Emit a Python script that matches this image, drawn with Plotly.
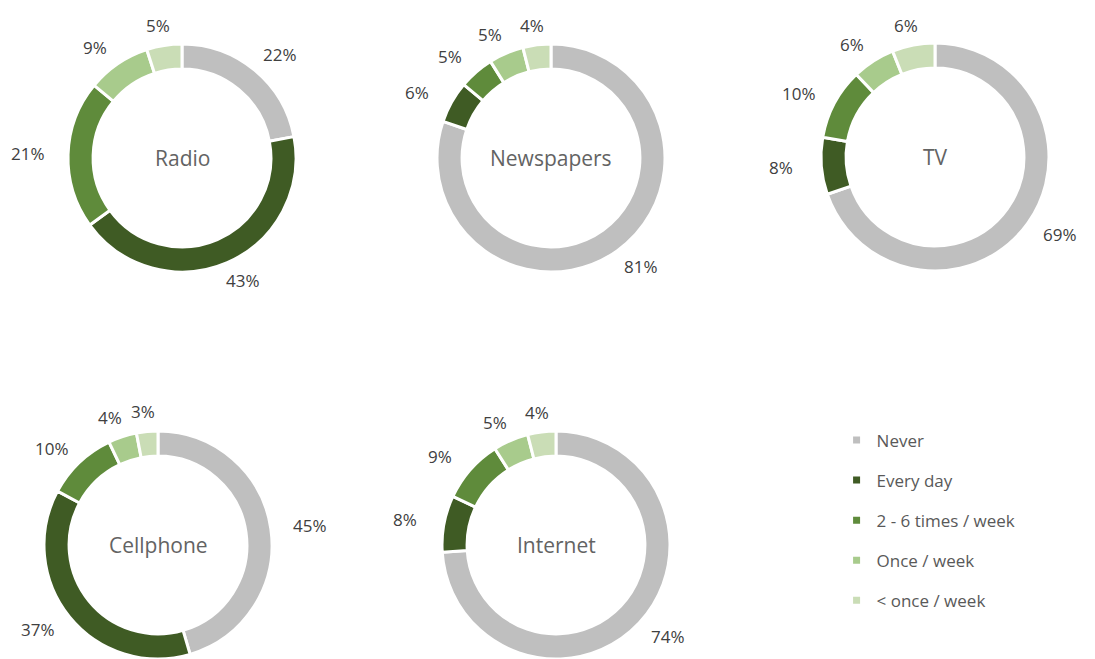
import math
import plotly.graph_objects as go

# media usage frequency
categories = ["Never", "Every day", "2 - 6 times / week", "Once / week", "< once / week"]
colors = ["#BFBFBF", "#3F5B24", "#5F8B3B", "#A8CB8C", "#CADDB6"]

media = ["Radio", "Newspapers", "TV", "Cellphone", "Internet"]
radio = [22, 43, 21, 9, 5]
newspapers = [81, 6, 5, 5, 4]
tv = [69, 8, 10, 6, 6]
cellphone = [45, 37, 10, 4, 3]
internet = [74, 8, 9, 5, 4]
series = [radio, newspapers, tv, cellphone, internet]

W, H = 1095, 659
# donut centres (px) and outer radius
centres = [(182, 158), (551, 158), (935, 157), (158, 545), (556, 545)]
R = 114
# label ring (px from centre), a bit wider than tall like the original
LRX, LRY = 154, 134

fig = go.Figure()
annotations = []
for name, vals, (cx, cy) in zip(media, series, centres):
    dx = [max(0, (cx - R) / W), min(1, (cx + R) / W)]
    dy = [max(0, 1 - (cy + R) / H), min(1, 1 - (cy - R) / H)]
    fig.add_trace(go.Pie(
        labels=categories,
        values=vals,
        textinfo="none",
        hole=0.78,
        sort=False,
        direction="clockwise",
        rotation=0,
        marker=dict(colors=colors, line=dict(color="white", width=3)),
        domain=dict(x=dx, y=dy),
        showlegend=False,
        hoverinfo="label+value",
        name=name,
    ))
    annotations.append(dict(
        x=cx / W, y=1 - cy / H, xref="paper", yref="paper",
        text=name, showarrow=False,
        xanchor="center", yanchor="middle",
        font=dict(size=21, color="#636363"),
    ))
    # percentage labels outside the ring, at each slice's mid angle
    total = sum(vals)
    cum = 0
    for v in vals:
        a = 2 * math.pi * (cum + v / 2) / total
        cum += v
        px = cx + LRX * math.sin(a)
        py = cy - LRY * math.cos(a)
        annotations.append(dict(
            x=px / W, y=1 - py / H, xref="paper", yref="paper",
            text=f"{v}%", showarrow=False,
            xanchor="center", yanchor="middle",
            font=dict(size=17, color="#404040"),
        ))

# legend entries as dummy markers so spacing can be controlled
for i, (cat, col) in enumerate(zip(categories, colors)):
    fig.add_trace(go.Scatter(
        x=[None], y=[None], mode="markers", name=cat,
        marker=dict(symbol="square", size=7, color=col),
        legendgroup=f"g{i}", showlegend=True,
    ))

fig.update_layout(
    width=W, height=H,
    margin=dict(l=0, r=0, t=0, b=0),
    paper_bgcolor="white", plot_bgcolor="white",
    font=dict(family="'Open Sans', sans-serif", color="#595959"),
    annotations=annotations,
    xaxis=dict(visible=False), yaxis=dict(visible=False),
    legend=dict(
        x=0.764, y=0.359, xanchor="left", yanchor="top",
        font=dict(size=17, color="#595959"),
        tracegroupgap=15, itemwidth=30,
        bgcolor="rgba(0,0,0,0)",
    ),
)

fig.write_html("out.html", config={"displayModeBar": False},
               post_script="document.body.style.margin='0';")
